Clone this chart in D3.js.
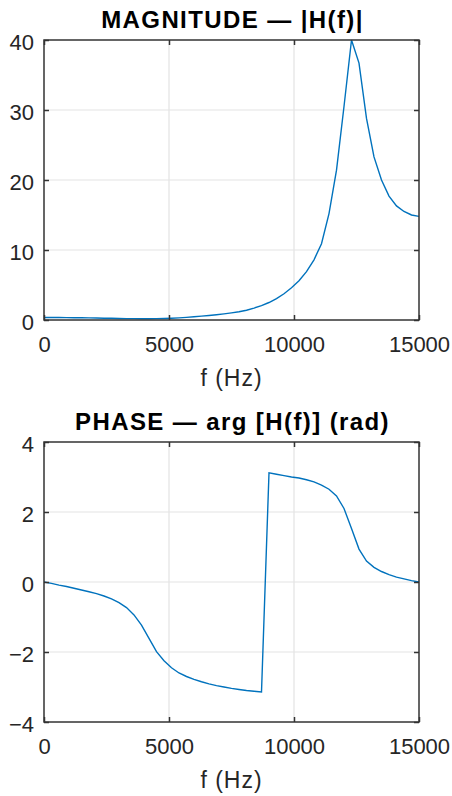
<!DOCTYPE html>
<html>
<head>
<meta charset="utf-8">
<script src="https://cdn.jsdelivr.net/npm/d3@7"></script>
<style>
  html, body { margin: 0; padding: 0; background: #ffffff; }
  svg { display: block; font-family: "Liberation Sans", Arial, Helvetica, sans-serif; }
</style>
</head>
<body>
<div id="chart"></div>
<script>
// frequency samples (Hz)
const freqHz = [
  0, 300, 600, 900, 1200, 1500, 1800, 2100, 2400, 2700,
  3000, 3300, 3600, 3900, 4200, 4500, 4800, 5100, 5400, 5700,
  6000, 6300, 6600, 6900, 7200, 7500, 7800, 8100, 8400, 8700,
  9000, 9300, 9600, 9900, 10200, 10500, 10800, 11100, 11400, 11700,
  12000, 12300, 12600, 12900, 13200, 13500, 13800, 14100, 14400, 14700,
  15000
];

// |H(f)|
const magnitude = [
  0.35, 0.35, 0.35, 0.34, 0.33, 0.32, 0.30, 0.28, 0.26, 0.24,
  0.22, 0.20, 0.19, 0.18, 0.18, 0.19, 0.21, 0.25, 0.31, 0.38,
  0.46, 0.55, 0.65, 0.76, 0.88, 1.02, 1.18, 1.40, 1.70, 2.05,
  2.50, 3.05, 3.75, 4.60, 5.60, 6.90, 8.60, 10.90, 15.20, 21.40,
  30.50, 40.00, 36.70, 28.80, 23.30, 20.00, 17.70, 16.30, 15.50, 15.00,
  14.80
];

// arg[H(f)] in rad
const phase = [
  0.00, -0.04, -0.09, -0.13, -0.18, -0.23, -0.28, -0.33, -0.40, -0.48,
  -0.59, -0.73, -0.94, -1.23, -1.61, -1.99, -2.25, -2.45, -2.60, -2.70,
  -2.78, -2.85, -2.91, -2.96, -3.00, -3.04, -3.07, -3.10, -3.12, -3.14,
  3.12, 3.08, 3.04, 3.00, 2.97, 2.92, 2.86, 2.77, 2.65, 2.46,
  2.10, 1.53, 0.94, 0.60, 0.42, 0.30, 0.21, 0.14, 0.09, 0.04,
  0.00
];

const xTicks = [0, 5000, 10000, 15000];
const magTicks = [0, 10, 20, 30, 40];
const phaseTicks = [-4, -2, 0, 2, 4];

const magTitle = 'MAGNITUDE \u2014 |H(f)|';
const phaseTitle = 'PHASE \u2014 arg [H(f)] (rad)';
const xLabel = 'f (Hz)';

const W = 452, H = 796;
const axisColor = '#333333';
const gridColor = '#e3e3e3';
const lineColor = '#0072BD';

const svg = d3.select('#chart').append('svg')
  .attr('width', W)
  .attr('height', H);

function drawPanel(cfg) {
  const { top, values, yDomain, yTicks, title, clipId } = cfg;
  const left = 44, right = 419, bottom = top + 280;
  const w = right - left, h = bottom - top;

  const g = svg.append('g').attr('transform', `translate(${left},${top})`);

  const x = d3.scaleLinear().domain([0, 15000]).range([0, w]);
  const y = d3.scaleLinear().domain(yDomain).range([h, 0]);

  // Grid
  g.append('g').selectAll('line.vgrid')
    .data(xTicks.slice(1, -1))
    .join('line')
    .attr('x1', d => x(d)).attr('x2', d => x(d))
    .attr('y1', 0).attr('y2', h)
    .attr('stroke', gridColor).attr('stroke-width', 1.2);
  g.append('g').selectAll('line.hgrid')
    .data(yTicks.slice(1, -1))
    .join('line')
    .attr('x1', 0).attr('x2', w)
    .attr('y1', d => y(d)).attr('y2', d => y(d))
    .attr('stroke', gridColor).attr('stroke-width', 1.2);

  // clip data to the axes box
  svg.append('clipPath').attr('id', clipId)
    .append('rect').attr('x', 0).attr('y', -1).attr('width', w).attr('height', h + 2);

  const line = d3.line()
    .x((d, i) => x(freqHz[i]))
    .y(d => y(d));

  g.append('path')
    .datum(values)
    .attr('clip-path', `url(#${clipId})`)
    .attr('fill', 'none')
    .attr('stroke', lineColor)
    .attr('stroke-width', 1.4)
    .attr('stroke-linejoin', 'miter')
    .attr('d', line);

  // Axes (ticks inward on all sides)
  const styleAxis = sel => {
    sel.select('.domain').remove();
    sel.selectAll('.tick line').attr('stroke', axisColor).attr('stroke-width', 1.5);
    sel.selectAll('.tick text')
      .attr('fill', '#262626')
      .attr('font-size', '22px');
  };

  g.append('g')
    .attr('transform', `translate(0,${h})`)
    .call(d3.axisBottom(x).tickValues(xTicks).tickSize(-5).tickPadding(16).tickFormat(d3.format('d')))
    .call(styleAxis);
  g.append('g')
    .call(d3.axisTop(x).tickValues(xTicks).tickSize(-5).tickFormat(''))
    .call(styleAxis);
  g.append('g')
    .call(d3.axisLeft(y).tickValues(yTicks).tickSize(-5).tickPadding(10).tickFormat(d3.format('d')))
    .call(styleAxis)
    .selectAll('.tick text').attr('dy', '0.42em');
  g.append('g')
    .attr('transform', `translate(${w},0)`)
    .call(d3.axisRight(y).tickValues(yTicks).tickSize(-5).tickFormat(''))
    .call(styleAxis);

  // Box
  g.append('rect')
    .attr('width', w).attr('height', h)
    .attr('fill', 'none')
    .attr('stroke', axisColor)
    .attr('stroke-width', 1.5);

  // Title
  g.append('text')
    .attr('x', w / 2 + 1)
    .attr('y', -12)
    .attr('text-anchor', 'middle')
    .attr('font-size', '24px')
    .attr('font-weight', 'bold')
    .attr('letter-spacing', '1.4px')
    .style('white-space', 'pre')
    .attr('fill', '#000')
    .text(title);

  // X label
  g.append('text')
    .attr('x', w / 2)
    .attr('y', h + 66)
    .attr('text-anchor', 'middle')
    .attr('font-size', '23px')
    .attr('letter-spacing', '1px')
    .attr('fill', '#262626')
    .text(xLabel);
}

drawPanel({ top: 40, values: magnitude, yDomain: [0, 40], yTicks: magTicks, title: magTitle, clipId: 'clip-mag' });
drawPanel({ top: 442, values: phase, yDomain: [-4, 4], yTicks: phaseTicks, title: phaseTitle, clipId: 'clip-phase' });
</script>
</body>
</html>
